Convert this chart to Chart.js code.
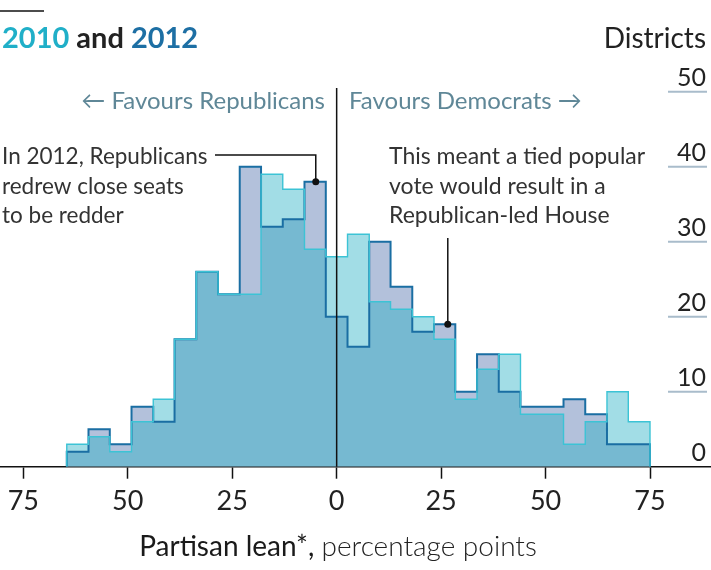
<!DOCTYPE html>
<html>
<head>
<meta charset="utf-8">
<script src="https://cdn.jsdelivr.net/npm/chart.js@4.4.1/dist/chart.umd.min.js"></script>
<style>
  html, body { margin: 0; padding: 0; background: #fff; }
  #wrap { width: 711px; height: 570px; }
</style>
</head>
<body>
<div id="wrap"><canvas id="chart"></canvas></div>
<script>
// histogram bin edges, partisan lean in percentage points (27 bins)
var binEdges = [-64.6, -59.4, -54.3, -49.1, -43.9, -38.8, -33.6, -28.4, -23.2, -18.1, -12.9, -7.7, -2.6,
                2.6, 7.8, 12.9, 18.1, 23.3, 28.4, 33.6, 38.8, 44.0, 49.1, 54.3, 59.5, 64.7, 69.8, 75.0];
// number of districts in each bin
var districts2010 = [3, 4, 2, 6, 9, 17, 26, 23, 23, 39, 37, 29, 28, 31, 22, 21, 20, 17, 9, 13, 15, 7, 7, 3, 6, 10, 6];
var districts2012 = [2, 5, 3, 8, 6, 17, 26, 23, 40, 32, 33, 38, 20, 16, 30, 24, 18, 19, 10, 15, 10, 8, 8, 9, 7, 3, 3];
var xTicks = [-75, -50, -25, 0, 25, 50, 75];
var yTicks = [0, 10, 20, 30, 40, 50];

var FONT = 'Lato';

// outline of a histogram: up from zero at the first edge, steps, down at the last edge
function stepPoints(values) {
  var pts = [{x: binEdges[0], y: 0}];
  values.forEach(function(v, i) { pts.push({x: binEdges[i], y: v}); });
  pts.push({x: binEdges[values.length], y: 0});
  return pts;
}

function line(ctx, pts, color, width) {
  ctx.save();
  ctx.strokeStyle = color;
  ctx.lineWidth = width;
  ctx.beginPath();
  ctx.moveTo(pts[0][0], pts[0][1]);
  for (var i = 1; i < pts.length; i++) ctx.lineTo(pts[i][0], pts[i][1]);
  ctx.stroke();
  ctx.restore();
}

function dot(ctx, x, y) {
  ctx.save();
  ctx.fillStyle = '#111';
  ctx.beginPath();
  ctx.arc(x, y, 3.5, 0, Math.PI * 2);
  ctx.fill();
  ctx.restore();
}

function text(ctx, str, x, y, font, color, align) {
  ctx.save();
  ctx.font = font;
  ctx.fillStyle = color;
  ctx.textAlign = align || 'left';
  ctx.textBaseline = 'alphabetic';
  ctx.fillText(str, x, y);
  ctx.restore();
}

var decorations = {
  id: 'decorations',
  afterDatasetsDraw: function(chart) {
    var ctx = chart.ctx, xs = chart.scales.x, ys = chart.scales.y;
    var area = chart.chartArea;
    var x0 = xs.getPixelForValue(0);

    // zero line
    line(ctx, [[x0, 88], [x0, area.bottom]], '#111', 1.5);

    // short gridlines and labels on the right
    yTicks.forEach(function(v) {
      var y = ys.getPixelForValue(v);
      if (v > 0) line(ctx, [[668, y], [707, y]], '#a9bccb', 2);
      text(ctx, String(v), 706, y - 6, '25px ' + FONT, '#222', 'right');
    });

    // annotation leaders
    var d1x = xs.getPixelForValue(-5), d1y = ys.getPixelForValue(38);
    line(ctx, [[215, 155], [d1x, 155], [d1x, d1y]], '#111', 1.5);
    dot(ctx, d1x, d1y);
    var d2x = xs.getPixelForValue(26.6), d2y = ys.getPixelForValue(19);
    line(ctx, [[d2x, 238], [d2x, d2y]], '#111', 1.5);
    dot(ctx, d2x, d2y);
  },
  afterDraw: function(chart) {
    var ctx = chart.ctx;

    // top rule and title
    line(ctx, [[0, 11], [44, 11]], '#111', 1.5);
    ctx.save();
    ctx.font = 'bold 29px ' + FONT;
    var x = 2;
    [['2010', '#20afc8'], [' and ', '#222'], ['2012', '#1d6fa4']].forEach(function(p) {
      text(ctx, p[0], x, 48, 'bold 29px ' + FONT, p[1]);
      x += ctx.measureText(p[0]).width;
    });
    ctx.restore();

    text(ctx, 'Districts', 706, 48, '28px ' + FONT, '#222', 'right');

    text(ctx, '\u2190 Favours Republicans', 325, 109, '24px ' + FONT, '#5f8797', 'right');
    text(ctx, 'Favours Democrats \u2192', 349, 109, '24px ' + FONT, '#5f8797', 'left');

    var f = '22.5px ' + FONT;
    text(ctx, 'In 2012, Republicans', 2, 164, f, '#333');
    text(ctx, 'redrew close seats', 2, 194, f, '#333');
    text(ctx, 'to be redder', 2, 223, f, '#333');
    f = '23px ' + FONT;
    text(ctx, 'This meant a tied popular', 389, 164, f, '#333');
    text(ctx, 'vote would result in a', 389, 194, f, '#333');
    text(ctx, 'Republican-led House', 389, 223, f, '#333');

    // x axis title
    ctx.save();
    var a = 'Partisan lean*, ', b = 'percentage points';
    ctx.font = '28px ' + FONT;
    var wa = ctx.measureText(a).width;
    ctx.font = '300 28px ' + FONT;
    var wb = ctx.measureText(b).width;
    var sx = 338 - (wa + wb) / 2;
    text(ctx, a, sx, 556, '28px ' + FONT, '#1a1a1a');
    text(ctx, b, sx + wa, 556, '300 28px ' + FONT, '#222');
    ctx.restore();
  }
};

new Chart(document.getElementById('chart'), {
  type: 'line',
  data: {
    datasets: [{
      label: '2010',
      data: stepPoints(districts2010),
      stepped: 'before',
      borderColor: '#3cc3d5',
      borderWidth: 1.4,
      backgroundColor: 'rgba(34, 174, 196, 0.42)',
      fill: 'origin',
      pointRadius: 0,
      order: 1
    }, {
      label: '2012',
      data: stepPoints(districts2012),
      stepped: 'before',
      borderColor: '#1a6ea3',
      borderWidth: 2,
      backgroundColor: 'rgb(179, 193, 219)',
      fill: 'origin',
      pointRadius: 0,
      order: 2
    }]
  },
  options: {
    responsive: true,
    maintainAspectRatio: false,
    animation: false,
    layout: { padding: { top: 54.2, bottom: 43.3, left: 0, right: 0 } },
    plugins: {
      legend: { display: false },
      tooltip: { enabled: false },
      filler: { drawTime: 'beforeDatasetsDraw' }
    },
    scales: {
      x: {
        type: 'linear',
        min: -80.58,
        max: 89.6,
        afterBuildTicks: function(s) { s.ticks = xTicks.map(function(v) { return {value: v}; }); },
        afterFit: function(s) { s.height = 60; },
        grid: { drawOnChartArea: false, drawTicks: true, tickLength: 12, tickColor: '#111', tickWidth: 1.5 },
        border: { display: true, color: '#111', width: 1.5 },
        ticks: {
          autoSkip: false,
          maxRotation: 0,
          padding: 6,
          color: '#222',
          font: { family: FONT, size: 27 },
          callback: function(v) { return Math.abs(v); }
        }
      },
      y: { display: false, min: 0, max: 55 }
    }
  },
  plugins: [decorations]
});
</script>
</body>
</html>
